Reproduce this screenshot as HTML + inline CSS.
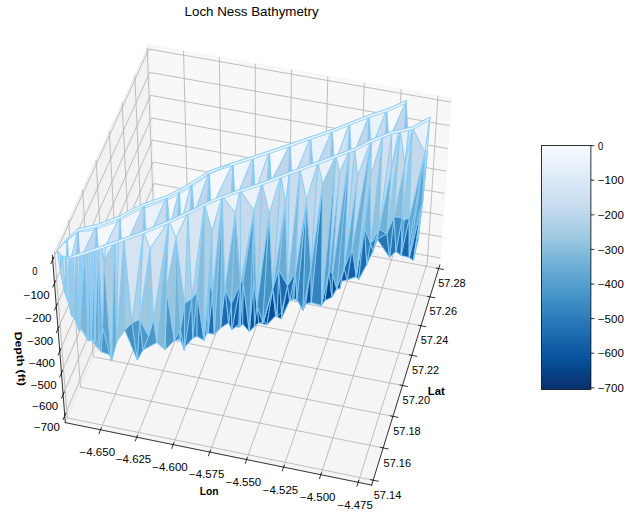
<!DOCTYPE html>
<html><head><meta charset="utf-8"><title>Loch Ness Bathymetry</title>
<style>html,body{margin:0;padding:0;background:#fff;overflow:hidden}body{width:631px;height:519px;position:relative;font-family:"Liberation Sans",sans-serif}</style></head>
<body>
<svg width="631" height="519" viewBox="0 0 631 519" style="display:block;position:absolute;left:0;top:0">
<defs><linearGradient id="cb" x1="0" y1="0" x2="0" y2="1">
<stop offset="0.000" stop-color="#f7fbff"/>
<stop offset="0.125" stop-color="#deebf7"/>
<stop offset="0.250" stop-color="#c6dbef"/>
<stop offset="0.375" stop-color="#9ecae1"/>
<stop offset="0.500" stop-color="#6baed6"/>
<stop offset="0.625" stop-color="#4292c6"/>
<stop offset="0.750" stop-color="#2171b5"/>
<stop offset="0.875" stop-color="#08519c"/>
<stop offset="1.000" stop-color="#08306b"/>
</linearGradient></defs>
<rect width="631" height="519" fill="#fff"/>
<polygon points="65.29,422.62 155.07,211.7 148.7,44.81 52.34,255.45" fill="#e6e6e6" fill-opacity=".5" stroke="#e6e6e6" stroke-opacity=".5" stroke-width="1"/>
<polygon points="155.07,211.7 439.8,265.05 451.31,97.89 148.7,44.81" fill="#f2f2f2" fill-opacity=".5" stroke="#f2f2f2" stroke-opacity=".5" stroke-width="1"/>
<polygon points="65.29,422.62 371.65,485.08 439.8,265.05 155.07,211.7" fill="#ececec" fill-opacity=".5" stroke="#ececec" stroke-opacity=".5" stroke-width="1"/>
<g fill="none" stroke="#b0b0b0" stroke-width=".8">
<polyline points="100.54,429.81 187.88,217.85 183.53,50.92"/>
<polyline points="136.77,437.19 221.59,224.17 219.32,57.2"/>
<polyline points="173.19,444.62 255.46,230.51 255.3,63.51"/>
<polyline points="209.8,452.08 289.49,236.89 291.46,69.85"/>
<polyline points="246.6,459.59 323.69,243.3 327.82,76.23"/>
<polyline points="283.6,467.13 358.06,249.74 364.36,82.63"/>
<polyline points="320.8,474.71 392.6,256.21 401.09,89.08"/>
<polyline points="358.19,482.34 427.31,262.71 438.01,95.55"/>
<polyline points="54.49,250.75 67.29,417.93 373.17,480.18"/>
<polyline points="68.66,219.77 80.44,387.04 383.17,447.91"/>
<polyline points="82.51,189.51 93.3,356.82 392.94,416.36"/>
<polyline points="96.03,159.94 105.89,327.25 402.5,385.5"/>
<polyline points="109.25,131.04 118.21,298.31 411.85,355.31"/>
<polyline points="122.17,102.8 130.27,269.98 421,325.77"/>
<polyline points="134.81,75.18 142.07,242.24 429.95,296.86"/>
<polyline points="147.17,48.16 153.64,215.08 438.72,268.56"/>
<polyline points="440.28,258.09 154.8,204.74 64.76,415.68"/>
<polyline points="441.74,236.88 154,183.55 63.12,394.54"/>
<polyline points="443.22,215.34 153.18,162.03 61.45,373.04"/>
<polyline points="444.73,193.44 152.34,140.16 59.75,351.16"/>
<polyline points="446.26,171.18 151.49,117.94 58.03,328.91"/>
<polyline points="447.82,148.56 150.63,95.36 56.27,306.26"/>
<polyline points="449.4,125.56 149.76,72.41 54.49,283.22"/>
<polyline points="451.01,102.17 148.87,49.08 52.67,259.76"/>
</g>
<g fill="none" stroke="#000" stroke-width=".8" stroke-linecap="square">
<polyline points="65.29,422.62 371.65,485.08"/>
<polyline points="101.3,427.98 99.03,433.48"/>
<polyline points="137.5,435.35 135.3,440.89"/>
<polyline points="173.9,442.77 171.76,448.33"/>
<polyline points="210.49,450.22 208.42,455.81"/>
<polyline points="247.27,457.72 245.27,463.34"/>
<polyline points="284.25,465.25 282.31,470.9"/>
<polyline points="321.42,472.82 319.55,478.5"/>
<polyline points="358.79,480.44 356.99,486.15"/>
<polyline points="439.8,265.05 371.65,485.08"/>
<polyline points="370.67,479.67 378.18,481.2"/>
<polyline points="380.69,447.41 388.12,448.91"/>
<polyline points="390.49,415.87 397.84,417.33"/>
<polyline points="400.08,385.02 407.35,386.45"/>
<polyline points="409.45,354.84 416.65,356.24"/>
<polyline points="418.62,325.31 425.75,326.68"/>
<polyline points="427.6,296.42 434.65,297.75"/>
<polyline points="436.39,268.13 443.37,269.44"/>
<polyline points="52.34,255.46 65.29,422.62"/>
<polyline points="63.11,419.54 65.78,413.29"/>
<polyline points="61.46,398.4 64.15,392.15"/>
<polyline points="59.78,376.89 62.49,370.65"/>
<polyline points="58.07,355.01 60.8,348.78"/>
<polyline points="56.33,332.75 59.08,326.53"/>
<polyline points="54.56,310.1 57.34,303.89"/>
<polyline points="52.76,287.04 55.56,280.85"/>
<polyline points="50.92,263.58 53.75,257.39"/>
</g>
<g stroke="#87ccf7" stroke-width=".85" stroke-linejoin="round">
<polygon points="356.2,276.6 358.6,279.7 358.5,276.2" fill="#08478c"/>
<polygon points="358.6,279.7 366.8,264.3 358.5,276.2" fill="#084d96"/>
<polygon points="356.2,276.6 358.5,276.2 347.3,279.7" fill="#084b92"/>
<polygon points="321.5,305.5 325,300.4 319.6,301.2" fill="#083471"/>
<polygon points="325,300.4 331.8,297.3 319.6,301.2" fill="#083876"/>
<polygon points="319.1,298.1 321.5,305.5 319.6,301.2" fill="#083571"/>
<polygon points="366.8,264.3 373,250.9 358.5,276.2" fill="#105ba2"/>
<polygon points="336.6,288.6 341.1,281.5 331.8,297.3" fill="#084488"/>
<polygon points="336.6,288.6 340,289 341.1,281.5" fill="#08478d"/>
<polygon points="321.5,305.5 319.1,298.1 311.2,302.4" fill="#083876"/>
<polygon points="305.8,303.8 319.1,298.1 319.6,301.2" fill="#083b7b"/>
<polygon points="311.2,302.4 319.1,298.1 305.8,303.8" fill="#083d7d"/>
<polygon points="277.1,316.7 281.3,318.9 275.6,315.7" fill="#083774"/>
<polygon points="395.9,251.4 401.1,255.5 405.9,141.3" fill="#4793c4"/>
<polygon points="281.3,318.9 289.6,300.5 275.6,315.7" fill="#083e80"/>
<polygon points="258.6,322.8 266.8,324.9 275.6,315.7" fill="#083775"/>
<polygon points="258.6,322.8 263.9,320.9 266.8,324.9" fill="#083774"/>
<polygon points="389.6,257.4 395.9,251.4 386.9,144.7" fill="#4d98c7"/>
<polygon points="254.5,325.9 258.6,322.8 249.3,331.7" fill="#083674"/>
<polygon points="249.3,331.7 258.6,322.8 242.6,323.8" fill="#083a79"/>
<polygon points="347.3,279.7 358.5,276.2 349.5,164.6" fill="#3c8abf"/>
<polygon points="358.5,276.2 373,250.9 369.3,153.3" fill="#4a96c7"/>
<polygon points="389.6,257.4 386.9,144.7 377.3,239.3" fill="#5aa0cc"/>
<polygon points="331.8,297.3 332.1,170.7 319.6,301.2" fill="#307fba"/>
<polygon points="341.1,281.5 347.3,279.7 349.5,164.6" fill="#3e8cc1"/>
<polygon points="341.1,281.5 332.1,170.7 331.8,297.3" fill="#3887be"/>
<polygon points="233.7,326.6 240,327 242.6,323.8" fill="#084286"/>
<polygon points="238.6,324.2 240,327 233.7,326.6" fill="#084488"/>
<polygon points="231.8,330 238.6,324.2 233.7,326.6" fill="#08468b"/>
<polygon points="369.3,153.3 373,250.9 377.3,239.3" fill="#61a6d0"/>
<polygon points="311.6,177.7 305.8,303.8 319.6,301.2" fill="#3280ba"/>
<polygon points="228.7,322.8 231.8,330 233.7,326.6" fill="#084a91"/>
<polygon points="305.8,303.8 290.2,186.7 293.7,299.3" fill="#3987be"/>
<polygon points="395.9,251.4 405.9,141.3 386.9,144.7" fill="#9ec7dd"/>
<polygon points="208.1,333.1 214.3,334.2 206.8,332.8" fill="#1059a0"/>
<polygon points="275.6,315.7 289.6,300.5 290.2,186.7" fill="#3887be"/>
<polygon points="290.2,186.7 289.6,300.5 293.7,299.3" fill="#3f8ec1"/>
<polygon points="252.9,198.3 258.6,322.8 275.6,315.7" fill="#3280ba"/>
<polygon points="358.5,276.2 369.3,153.3 349.5,164.6" fill="#91c1da"/>
<polygon points="386.9,144.7 369.3,153.3 377.3,239.3" fill="#accde3"/>
<polygon points="258.6,322.8 232.9,205.6 242.6,323.8" fill="#3583bc"/>
<polygon points="332.1,170.7 341.1,281.5 349.5,164.6" fill="#91c0da"/>
<polygon points="180.5,339.4 184.4,350.6 184.3,347.5" fill="#1a66aa"/>
<polygon points="232.9,205.6 233.7,326.6 242.6,323.8" fill="#3988be"/>
<polygon points="332.1,170.7 311.6,177.7 319.6,301.2" fill="#88bcd9"/>
<polygon points="208.9,213.4 228.7,322.8 233.7,326.6" fill="#418fc2"/>
<polygon points="305.8,303.8 311.6,177.7 290.2,186.7" fill="#89bcd9"/>
<polygon points="178.5,339.4 180.5,339.4 174.3,340.5" fill="#2a78b6"/>
<polygon points="228.7,322.8 208.9,213.4 220.5,328" fill="#4693c4"/>
<polygon points="220.5,328 208.9,213.4 214.3,334.2" fill="#4592c3"/>
<polygon points="214.3,334.2 208.9,213.4 206.8,332.8" fill="#4894c5"/>
<polygon points="275.6,315.7 290.2,186.7 269.2,185.2" fill="#8ebfda"/>
<polygon points="192.1,219.3 204,340.3 206.8,332.8" fill="#4e98c7"/>
<polygon points="196.8,336.2 204,340.3 192.1,219.3" fill="#519ac8"/>
<polygon points="252.9,198.3 275.6,315.7 269.2,185.2" fill="#90c0da"/>
<polygon points="258.6,322.8 252.9,198.3 232.9,205.6" fill="#88bcd9"/>
<polygon points="192.7,338.3 196.8,336.2 192.1,219.3" fill="#589eca"/>
<polygon points="184.3,347.5 192.7,338.3 192.1,219.3" fill="#579ecb"/>
<polygon points="180.5,339.4 184.3,347.5 167.9,233.3" fill="#5ca1cb"/>
<polygon points="208.9,213.4 233.7,326.6 232.9,205.6" fill="#92c1db"/>
<polygon points="174.3,340.5 180.5,339.4 167.9,233.3" fill="#67a9d0"/>
<polygon points="165,349.7 174.3,340.5 167.9,233.3" fill="#66a9d1"/>
<polygon points="165,349.7 144.3,247.8 156.8,342.5" fill="#6babd2"/>
<polygon points="111.5,361.1 116.7,341.5 110.7,355" fill="#2a78b6"/>
<polygon points="208.9,213.4 192.1,219.3 206.8,332.8" fill="#a0c8de"/>
<polygon points="156.8,342.5 144.3,247.8 143,350" fill="#71afd3"/>
<polygon points="119.9,258.6 137.3,360 143,350" fill="#59a0cc"/>
<polygon points="94.7,344.4 101.2,351.8 110.7,355" fill="#5da2cd"/>
<polygon points="179,230.1 184.3,347.5 192.1,219.3" fill="#a4c9df"/>
<polygon points="184.3,347.5 179,230.1 167.9,233.3" fill="#a5cae0"/>
<polygon points="98.7,344.3 101.2,351.8 94.7,344.4" fill="#69a9d0"/>
<polygon points="124.9,330.2 137.3,360 119.9,258.6" fill="#65a7cf"/>
<polygon points="144.3,247.8 165,349.7 167.9,233.3" fill="#accde3"/>
<polygon points="90.3,338.6 94.8,339.5 94.7,344.4" fill="#71aed3"/>
<polygon points="88.8,334.4 90.3,338.6 94.7,344.4" fill="#73b0d4"/>
<polygon points="91.1,340.3 90.3,338.6 88.3,340.9" fill="#77b2d5"/>
<polygon points="116.7,341.5 96.9,263 110.7,355" fill="#4f9ac9"/>
<polygon points="90.3,338.6 88.8,334.4 88.3,340.9" fill="#75b0d3"/>
<polygon points="116.7,341.5 124.9,330.2 119.9,258.6" fill="#70afd4"/>
<polygon points="96.9,263 94.7,344.4 110.7,355" fill="#65a8d0"/>
<polygon points="88.3,340.9 88.8,334.4 85.8,334.3" fill="#79b3d4"/>
<polygon points="144.3,247.8 119.9,258.6 143,350" fill="#a5cae0"/>
<polygon points="83.9,330.3 88.3,340.9 85.8,334.3" fill="#79b1d2"/>
<polygon points="81.5,329.5 88.3,340.9 83.9,330.3" fill="#7bb4d4"/>
<polygon points="76.6,322.2 83.9,330.3 85.8,334.3" fill="#7fb7d6"/>
<polygon points="88.8,334.4 94.7,344.4 77.9,264.5" fill="#78b2d4"/>
<polygon points="81.5,329.5 83.9,330.3 76.6,322.2" fill="#82b7d6"/>
<polygon points="79,330.6 81.5,329.5 76.6,322.2" fill="#83b8d6"/>
<polygon points="116.7,341.5 119.9,258.6 96.9,263" fill="#97c4dc"/>
<polygon points="88.8,334.4 77.9,264.5 85.8,334.3" fill="#7eb5d5"/>
<polygon points="78,322.3 79,330.6 76.6,322.2" fill="#85b9d6"/>
<polygon points="73.4,316.2 78,322.3 76.6,322.2" fill="#88bbd7"/>
<polygon points="77.9,264.5 76.6,322.2 85.8,334.3" fill="#82b7d5"/>
<polygon points="77.9,264.5 94.7,344.4 96.9,263" fill="#83b9d7"/>
<polygon points="72.1,312 73.4,316.2 76.6,322.2" fill="#89bad6"/>
<polygon points="71.8,316.2 73.4,316.2 72.1,312" fill="#8dbed8"/>
<polygon points="71.8,316.2 69.5,305.5 73.4,316.2" fill="#8dbed9"/>
<polygon points="67.7,299.2 71.8,316.2 72.1,312" fill="#8ebfd9"/>
<polygon points="72.1,312 76.6,322.2 67.4,274.2" fill="#8cbdd8"/>
<polygon points="67.7,299.2 72.1,312 64.6,289.5" fill="#90bed7"/>
<polygon points="76.6,322.2 77.9,264.5 67.4,274.2" fill="#9fc6dc"/>
<polygon points="64.6,289.5 72.1,312 67.4,274.2" fill="#a1c9df"/>
<polygon points="64.6,291.5 67.7,299.2 64.6,289.5" fill="#a0c9e0"/>
<polygon points="64.6,291.5 64.6,289.5 61,268.5" fill="#b3d1e6"/>
<polygon points="61,268.5 64.6,289.5 67.4,274.2" fill="#bcd4e8"/>
<polygon points="77.9,264.5 67.2,238.6 67.4,274.2" fill="#c7d9ea"/>
<polygon points="60.5,270.9 64.6,291.5 61,268.5" fill="#bed6ea"/>
<polygon points="60.5,270.9 61,268.5 67.4,274.2" fill="#c4d8ea"/>
<polygon points="406.2,100.6 386.9,144.7 405.9,141.3" fill="#c2d7ed"/>
<polygon points="386.7,109.1 369.3,153.3 386.9,144.7" fill="#c9dcef"/>
<polygon points="369.1,115 349.5,164.6 369.3,153.3" fill="#bfd5ec"/>
<polygon points="386.7,109.1 406.2,100.6 386.9,144.7" fill="#f5f9fd"/>
<polygon points="369.1,115 386.7,109.1 369.3,153.3" fill="#eaf2fa"/>
<polygon points="349.6,122.6 332.1,170.7 349.5,164.6" fill="#cfe0f1"/>
<polygon points="349.6,122.6 369.1,115 349.5,164.6" fill="#f1f6fc"/>
<polygon points="332.3,129.6 311.6,177.7 332.1,170.7" fill="#c2d7ed"/>
<polygon points="332.3,129.6 349.6,122.6 332.1,170.7" fill="#f5f9fd"/>
<polygon points="310.6,136.8 290.2,186.7 311.6,177.7" fill="#c9dcef"/>
<polygon points="310.6,136.8 332.3,129.6 311.6,177.7" fill="#eaf2fa"/>
<polygon points="290,144 269.2,185.2 290.2,186.7" fill="#bfd5ec"/>
<polygon points="290,144 310.6,136.8 290.2,186.7" fill="#f1f6fc"/>
<polygon points="269.4,150.9 252.9,198.3 269.2,185.2" fill="#cfe0f1"/>
<polygon points="253.3,156.3 232.9,205.6 252.9,198.3" fill="#c2d7ed"/>
<polygon points="269.4,150.9 290,144 269.2,185.2" fill="#f5f9fd"/>
<polygon points="253.3,156.3 269.4,150.9 252.9,198.3" fill="#eaf2fa"/>
<polygon points="233,162.7 208.9,213.4 232.9,205.6" fill="#c9dcef"/>
<polygon points="233,162.7 253.3,156.3 232.9,205.6" fill="#f1f6fc"/>
<polygon points="209.3,170.9 192.1,219.3 208.9,213.4" fill="#bfd5ec"/>
<polygon points="209.3,170.9 233,162.7 208.9,213.4" fill="#f5f9fd"/>
<polygon points="191.8,182.2 179,230.1 192.1,219.3" fill="#cfe0f1"/>
<polygon points="191.8,182.2 209.3,170.9 192.1,219.3" fill="#eaf2fa"/>
<polygon points="179.4,189.4 167.9,233.3 179,230.1" fill="#c2d7ed"/>
<polygon points="179.4,189.4 191.8,182.2 179,230.1" fill="#f1f6fc"/>
<polygon points="167.1,195.6 144.3,247.8 167.9,233.3" fill="#c9dcef"/>
<polygon points="167.1,195.6 179.4,189.4 167.9,233.3" fill="#f5f9fd"/>
<polygon points="144.4,203.5 119.9,258.6 144.3,247.8" fill="#bfd5ec"/>
<polygon points="144.4,203.5 167.1,195.6 144.3,247.8" fill="#eaf2fa"/>
<polygon points="120.2,215.9 96.9,263 119.9,258.6" fill="#cfe0f1"/>
<polygon points="120.2,215.9 144.4,203.5 119.9,258.6" fill="#f1f6fc"/>
<polygon points="96.5,224.7 77.9,264.5 96.9,263" fill="#c2d7ed"/>
<polygon points="96.5,224.7 120.2,215.9 96.9,263" fill="#f5f9fd"/>
<polygon points="78,228.8 67.4,274.2 77.9,264.5" fill="#c9dcef"/>
<polygon points="78,228.8 96.5,224.7 77.9,264.5" fill="#eaf2fa"/>
<polygon points="67.2,238.6 78,228.8 67.4,274.2" fill="#f1f6fc"/>
<polygon points="67.2,238.6 65,275 69.8,273.4" fill="#93c4e6"/>
<polygon points="78,228.8 75.5,265.3 80.3,263.7" fill="#93c4e6"/>
<polygon points="96.5,224.7 94.5,263.8 99.3,262.2" fill="#93c4e6"/>
<polygon points="120.2,215.9 117.5,259.4 122.3,257.8" fill="#93c4e6"/>
<polygon points="144.4,203.5 141.9,248.6 146.7,247" fill="#93c4e6"/>
<polygon points="167.1,195.6 165.5,234.1 170.3,232.5" fill="#93c4e6"/>
<polygon points="179.4,189.4 176.6,230.9 181.4,229.3" fill="#93c4e6"/>
<polygon points="191.8,182.2 189.7,220.1 194.5,218.5" fill="#93c4e6"/>
<polygon points="209.3,170.9 206.5,214.2 211.3,212.6" fill="#93c4e6"/>
<polygon points="233,162.7 230.5,206.4 235.3,204.8" fill="#93c4e6"/>
<polygon points="253.3,156.3 250.5,199.1 255.3,197.5" fill="#93c4e6"/>
<polygon points="269.4,150.9 266.8,186 271.6,184.4" fill="#93c4e6"/>
<polygon points="290,144 287.8,187.5 292.6,185.9" fill="#93c4e6"/>
<polygon points="310.6,136.8 309.2,178.5 314,176.9" fill="#93c4e6"/>
<polygon points="332.3,129.6 329.7,171.5 334.5,169.9" fill="#93c4e6"/>
<polygon points="349.6,122.6 347.1,165.4 351.9,163.8" fill="#93c4e6"/>
<polygon points="369.1,115 366.9,154.1 371.7,152.5" fill="#93c4e6"/>
<polygon points="386.7,109.1 384.5,145.5 389.3,143.9" fill="#93c4e6"/>
<polygon points="406.2,100.6 403.5,142.1 408.3,140.5" fill="#93c4e6"/>
<polygon points="58.5,249.1 61.3,245.7 64.1,242.2 66.6,239.1 66.9,238.8 69.7,236.3 72.5,233.8 78,228.8 96.5,224.7 119.2,216.5 130,210 144.4,203.5 167.1,195.6 179.4,189.4 191.8,182.2 209.3,170.9 233,162.7 253,156.4 290,144 310.6,136.8 332.3,129.6 350,122.4 369.1,115 387.7,108.8 406.2,100.6 406.2,103.2 387.7,111.4 369.1,117.6 350,125 332.3,132.2 310.6,139.4 290,146.6 253,159 233,165.3 209.3,173.5 191.8,184.8 179.4,192 167.1,198.2 144.4,206.1 130,212.6 119.2,219.1 96.5,227.3 78,231.4 72.5,236.4 69.7,238.4 66.9,240.4 66.6,240.6 64.1,243.2 61.3,246.2 58.5,249.1" fill="#edf4fc"/>
<polyline fill="none" stroke-width=".7" points="64,243.2 68.3,239.2 72.5,236 76.8,232.8 81,231.7 85.3,231.4 89.5,230.8 93.8,229.9 98.1,228.7 102.3,227.2 106.6,225.7 110.8,224.1 115.1,222.6 119.3,221 123.6,218.5 127.8,215.9 132.1,213.7 136.4,211.7 140.6,209.8 144.9,207.9 149.1,206.5 153.4,205 157.6,203.5 161.9,202 166.2,200.5 170.4,198.5 174.7,196.4 178.9,194.2 183.2,191.8 187.4,189.3 191.7,186.9 195.9,184.1 200.2,180.9 204.5,177.7 208.7,174.4 213,172.3 217.2,170.3 221.5,168.4 225.7,166.4 230,164.4"/>
<polygon points="413.4,260.6 420.1,216.9 418.2,240" fill="#1763a9"/>
<polygon points="413.4,260.6 409.3,257.6 422.7,200.9" fill="#1965aa"/>
<polygon points="409.3,257.6 401.1,255.5 409.4,217.7" fill="#1965aa"/>
<polygon points="409.3,243.1 409.3,257.6 409.4,217.7" fill="#1e6aac"/>
<polygon points="420.1,216.9 420.4,222 418.2,240" fill="#2c79b4"/>
<polygon points="420.1,216.9 413.4,260.6 422.7,200.9" fill="#307fbc"/>
<polygon points="401.1,255.5 395.9,251.4 402.2,218.1" fill="#2270b2"/>
<polygon points="394.1,216.4 395.9,251.4 389.6,257.4" fill="#2674b4"/>
<polygon points="332.4,273.7 336.6,288.6 331.8,297.3" fill="#084d95"/>
<polygon points="340,289 336.6,288.6 344.2,268.1" fill="#09519b"/>
<polygon points="325,300.4 321.5,305.5 329.2,270.6" fill="#08478d"/>
<polygon points="325,300.4 329.2,270.6 331.8,297.3" fill="#084a92"/>
<polygon points="401.1,255.5 404,220.3 409.4,217.7" fill="#3281bb"/>
<polygon points="341.1,281.5 340,289 344.2,268.1" fill="#0c56a0"/>
<polygon points="386.9,233.5 389.6,257.4 377.3,239.3" fill="#2674b4"/>
<polygon points="341.1,281.5 344.2,268.1 347.3,279.7" fill="#0e579f"/>
<polygon points="352.2,247.9 356.2,276.6 347.3,279.7" fill="#1560a6"/>
<polygon points="373,250.9 366.8,264.3 370.5,243.4" fill="#206fb2"/>
<polygon points="364.5,227 358.6,279.7 356.2,276.6" fill="#1a67ac"/>
<polygon points="297,299.2 303,310.6 305.8,303.8" fill="#083f80"/>
<polygon points="404,220.3 401.1,255.5 402.2,218.1" fill="#3483bc"/>
<polygon points="358.6,279.7 364.5,227 366.8,264.3" fill="#1e6cb0"/>
<polygon points="420.4,222 420.1,216.9 422.7,200.9" fill="#4691c1"/>
<polygon points="386.9,233.5 394.1,216.4 389.6,257.4" fill="#3482bb"/>
<polygon points="373,250.9 376.3,237.5 377.3,239.3" fill="#2e7db9"/>
<polygon points="277.1,316.7 281.6,312.2 281.3,318.9" fill="#083978"/>
<polygon points="424.8,152.3 409.3,257.6 409.3,243.1" fill="#4593c5"/>
<polygon points="329.2,270.6 332.4,273.7 331.8,297.3" fill="#105aa1"/>
<polygon points="376.3,237.5 373,250.9 370.5,243.4" fill="#2f7eba"/>
<polygon points="297,299.2 305.8,303.8 293.7,299.3" fill="#08488e"/>
<polygon points="395.9,251.4 394.1,216.4 402.2,218.1" fill="#3d8bbf"/>
<polygon points="344.2,268.1 352.2,247.9 347.3,279.7" fill="#1e6cb0"/>
<polygon points="303,310.6 311,267.6 305.8,303.8" fill="#0a529c"/>
<polygon points="311,267.6 311.2,302.4 305.8,303.8" fill="#0c549c"/>
<polygon points="379.1,229.1 386.9,233.5 377.3,239.3" fill="#3b89be"/>
<polygon points="376.3,237.5 379.1,229.1 377.3,239.3" fill="#3b8ac0"/>
<polygon points="366.8,264.3 364.5,227 370.5,243.4" fill="#3381ba"/>
<polygon points="263.9,320.9 258.6,322.8 262.8,322.9" fill="#083b7b"/>
<polygon points="289.6,300.5 292.5,297.8 293.7,299.3" fill="#09509a"/>
<polygon points="379.1,229.1 376.3,237.5 370.5,243.4" fill="#3b8ac0"/>
<polygon points="281.3,318.9 281.6,312.2 287.5,285.6" fill="#084c93"/>
<polygon points="289.6,300.5 281.3,318.9 287.5,285.6" fill="#0a529b"/>
<polygon points="409.3,257.6 424.8,152.3 422.7,200.9" fill="#62a6cf"/>
<polygon points="266.8,324.9 272.7,288.4 275.6,315.7" fill="#084d95"/>
<polygon points="272.7,288.4 277.1,316.7 275.6,315.7" fill="#084e97"/>
<polygon points="263.9,320.9 272.7,288.4 266.8,324.9" fill="#084c94"/>
<polygon points="424.8,152.3 409.3,243.1 409.4,217.7" fill="#65a7ce"/>
<polygon points="295.5,272.6 297,299.2 293.7,299.3" fill="#155fa5"/>
<polygon points="258.6,322.8 256.9,304.8 262.8,322.9" fill="#08488d"/>
<polygon points="258.6,322.8 254.5,325.9 256.9,304.8" fill="#08498f"/>
<polygon points="292.5,297.8 295.5,272.6 293.7,299.3" fill="#1762a8"/>
<polygon points="281.6,312.2 277.1,316.7 278.7,269.9" fill="#1059a0"/>
<polygon points="272.7,288.4 263.9,320.9 262.8,322.9" fill="#08509b"/>
<polygon points="292.5,297.8 289.6,300.5 295.5,272.6" fill="#1662a7"/>
<polygon points="254.5,325.9 249.3,331.7 253.7,280.3" fill="#0c549d"/>
<polygon points="295.5,272.6 289.6,300.5 287.5,285.6" fill="#1f6eb1"/>
<polygon points="281.6,312.2 278.7,269.9 287.5,285.6" fill="#1e6bae"/>
<polygon points="321.5,305.5 311.2,302.4 322.6,183.6" fill="#3583bc"/>
<polygon points="243.1,281 249.3,331.7 242.6,323.8" fill="#1059a0"/>
<polygon points="277.1,316.7 272.7,288.4 278.7,269.9" fill="#1e6db0"/>
<polygon points="379.1,229.1 391.6,167.7 386.9,233.5" fill="#73afd3"/>
<polygon points="364.5,227 356.2,276.6 370.6,176.2" fill="#60a6d0"/>
<polygon points="240,327 243.1,281 242.6,323.8" fill="#145ea5"/>
<polygon points="231.8,330 228.7,322.8 231.3,303.5" fill="#115ba1"/>
<polygon points="256.9,304.8 254.5,325.9 253.7,280.3" fill="#1863a7"/>
<polygon points="240,327 238.6,324.2 240.6,283.2" fill="#135ea4"/>
<polygon points="238.6,324.2 231.8,330 240.6,283.2" fill="#145fa5"/>
<polygon points="394.1,216.4 404.8,163.8 402.2,218.1" fill="#87bbd7"/>
<polygon points="303,310.6 297,299.2 306.5,199.6" fill="#3684bc"/>
<polygon points="424.8,152.3 425,176.2 422.7,200.9" fill="#a5c9de"/>
<polygon points="425,176.2 427.6,150 422.7,200.9" fill="#aacee4"/>
<polygon points="352.2,247.9 344.2,268.1 357.5,176" fill="#66aad2"/>
<polygon points="409.4,217.7 404,220.3 412.4,127" fill="#9cc7de"/>
<polygon points="356.2,276.6 352.2,247.9 371.1,139.8" fill="#70aed3"/>
<polygon points="364.5,227 370.6,176.2 370.5,243.4" fill="#79b3d4"/>
<polygon points="344.2,268.1 336.6,288.6 349.6,149.9" fill="#60a4ce"/>
<polygon points="228.7,322.8 220.5,328 224.9,288" fill="#1d6baf"/>
<polygon points="336.6,288.6 332.4,273.7 349.6,149.9" fill="#5fa4ce"/>
<polygon points="404,220.3 402.2,218.1 412.4,127" fill="#9ec8de"/>
<polygon points="311,267.6 303,310.6 306.5,199.6" fill="#4a95c6"/>
<polygon points="329.2,270.6 321.5,305.5 336,155" fill="#5ba1cd"/>
<polygon points="240.6,283.2 231.8,330 231.3,303.5" fill="#2270b3"/>
<polygon points="400.3,129.6 394.1,216.4 386.9,233.5" fill="#9cc6dd"/>
<polygon points="339.6,171.9 332.4,273.7 329.2,270.6" fill="#62a5ce"/>
<polygon points="311.2,302.4 311,267.6 322.6,183.6" fill="#549cca"/>
<polygon points="379.1,229.1 370.5,243.4 382.7,135.1" fill="#91c1db"/>
<polygon points="208.1,333.1 212.4,293 214.3,334.2" fill="#216fb2"/>
<polygon points="243.1,281 240,327 240.6,283.2" fill="#2b7ab8"/>
<polygon points="231.3,303.5 228.7,322.8 224.9,288" fill="#2977b4"/>
<polygon points="297,299.2 295.5,272.6 306.5,199.6" fill="#539bc8"/>
<polygon points="204,340.3 209.6,282.3 206.8,332.8" fill="#2a79b7"/>
<polygon points="256.9,304.8 269.2,213.5 262.8,322.9" fill="#408fc2"/>
<polygon points="209.6,282.3 208.1,333.1 206.8,332.8" fill="#2d7bb8"/>
<polygon points="269.2,213.5 272.7,288.4 262.8,322.9" fill="#4794c5"/>
<polygon points="204,340.3 196.8,336.2 197,292.1" fill="#2d7bb8"/>
<polygon points="425,176.2 424.8,152.3 427.6,150" fill="#c6d9eb"/>
<polygon points="180.5,329 184.4,350.6 180.5,339.4" fill="#2573b2"/>
<polygon points="424.8,152.3 409.4,217.7 412.4,127" fill="#c5d9ec"/>
<polygon points="184.3,347.5 184.4,350.6 191.8,298.7" fill="#2d7dbb"/>
<polygon points="184.3,347.5 191.8,298.7 192.7,338.3" fill="#307eba"/>
<polygon points="197,292.1 196.8,336.2 192.7,338.3" fill="#3382bb"/>
<polygon points="356.2,276.6 371.1,139.8 370.6,176.2" fill="#a8cbe1"/>
<polygon points="178.5,339.4 180.5,329 180.5,339.4" fill="#2f7eb9"/>
<polygon points="391.6,167.7 400.3,129.6 386.9,233.5" fill="#bfd6e9"/>
<polygon points="180.5,329 178.5,339.4 174.3,340.5" fill="#317fba"/>
<polygon points="402.2,218.1 404.8,163.8 412.4,127" fill="#c6d9ec"/>
<polygon points="253.7,280.3 249.3,331.7 253.9,210.5" fill="#559ecc"/>
<polygon points="212.4,293 208.1,333.1 209.6,282.3" fill="#4391c4"/>
<polygon points="278.7,269.9 285.4,201.8 287.5,285.6" fill="#6dacd1"/>
<polygon points="391.6,167.7 379.1,229.1 391.8,131.5" fill="#c2d6e9"/>
<polygon points="249.3,331.7 243.1,281 253.9,210.5" fill="#569dc9"/>
<polygon points="394.1,216.4 400.3,129.6 404.8,163.8" fill="#c6d8ea"/>
<polygon points="184.4,350.6 180.5,329 184.7,303.3" fill="#3a89bf"/>
<polygon points="272.7,288.4 285.4,201.8 278.7,269.9" fill="#71b0d5"/>
<polygon points="370.5,243.4 370.6,176.2 382.7,135.1" fill="#bed5e9"/>
<polygon points="295.5,272.6 287.5,285.6 300,168.2" fill="#82b9d8"/>
<polygon points="256.9,304.8 253.7,280.3 253.9,210.5" fill="#66a7cd"/>
<polygon points="184.4,350.6 184.7,303.3 191.8,298.7" fill="#4894c5"/>
<polygon points="191.8,298.7 197,292.1 192.7,338.3" fill="#4d97c7"/>
<polygon points="321.5,305.5 322.6,183.6 336,155" fill="#a6cae0"/>
<polygon points="357.5,176 344.2,268.1 354.7,148" fill="#bad3e8"/>
<polygon points="427.6,150 424.8,152.3 429.9,117.1" fill="#dce7f2"/>
<polygon points="220.5,328 214.3,334.2 222.3,196" fill="#5ca2cd"/>
<polygon points="371.1,139.8 352.2,247.9 357.5,176" fill="#c3d8eb"/>
<polygon points="166.3,288.5 174.3,340.5 165,349.7" fill="#4b96c6"/>
<polygon points="391.8,131.5 379.1,229.1 382.7,135.1" fill="#d1e1ef"/>
<polygon points="332.4,273.7 339.6,171.9 349.6,149.9" fill="#bed4e8"/>
<polygon points="153.5,319.2 156.8,342.5 143,350" fill="#4d97c7"/>
<polygon points="240.6,283.2 231.3,303.5 235.3,212.8" fill="#78b3d5"/>
<polygon points="243.1,281 240.6,283.2 253.9,210.5" fill="#83bad8"/>
<polygon points="235.3,212.8 231.3,303.5 224.9,288" fill="#78b2d4"/>
<polygon points="339.6,171.9 329.2,270.6 336,155" fill="#c3d7eb"/>
<polygon points="137.3,360 139.6,319.6 143,350" fill="#3e8dc1"/>
<polygon points="344.2,268.1 349.6,149.9 354.7,148" fill="#c8dbec"/>
<polygon points="209.6,282.3 204,340.3 212,230.8" fill="#71b1d6"/>
<polygon points="148.7,336 153.5,319.2 143,350" fill="#549fcd"/>
<polygon points="224.9,288 220.5,328 222.3,196" fill="#7db7d7"/>
<polygon points="424.8,152.3 412.4,127 429.9,117.1" fill="#eaf1f8"/>
<polygon points="214.3,334.2 212.4,293 222.3,196" fill="#7db4d4"/>
<polygon points="139.6,319.6 148.7,336 143,350" fill="#5099c7"/>
<polygon points="311,267.6 306.5,199.6 318,161.7" fill="#bfd5e9"/>
<polygon points="322.6,183.6 311,267.6 318,161.7" fill="#c5d9ec"/>
<polygon points="306.5,199.6 295.5,272.6 300,168.2" fill="#bfd5e9"/>
<polygon points="404.8,163.8 409.5,127.6 412.4,127" fill="#e7eff6"/>
<polygon points="408.9,127.8 409.5,127.6 404.8,163.8" fill="#e7eff6"/>
<polygon points="400.3,129.6 408.9,127.8 404.8,163.8" fill="#e7eff6"/>
<polygon points="132,322.7 137.3,360 124.9,330.2" fill="#428fc2"/>
<polygon points="400.3,129.6 391.6,167.7 398.5,130" fill="#e7eff6"/>
<polygon points="180.5,329 174.3,340.5 176,237.7" fill="#76b2d4"/>
<polygon points="391.6,167.7 391.8,131.5 398.5,130" fill="#e7eff6"/>
<polygon points="137.3,360 132,322.7 139.6,319.6" fill="#4f99c7"/>
<polygon points="285.4,201.8 289.5,172 287.5,285.6" fill="#bcd3e7"/>
<polygon points="204,340.3 197,292.1 204.5,203.7" fill="#8abcd8"/>
<polygon points="212.4,293 209.6,282.3 212,230.8" fill="#96c3db"/>
<polygon points="285.4,201.8 272.7,288.4 281,175.2" fill="#c0d6ea"/>
<polygon points="272.7,288.4 269.2,213.5 281,175.2" fill="#bbd4e8"/>
<polygon points="269.2,213.5 256.9,304.8 262,182.5" fill="#b4d1e6"/>
<polygon points="102.5,326.7 111.5,361.1 110.7,355" fill="#3d8bbf"/>
<polygon points="370.6,176.2 371.2,139.7 382.7,135.1" fill="#e8f0f7"/>
<polygon points="371.1,139.8 371.2,139.7 370.6,176.2" fill="#e9f0f7"/>
<polygon points="256.9,304.8 253.9,210.5 262,182.5" fill="#b8d1e6"/>
<polygon points="287.5,285.6 289.5,172 300,168.2" fill="#cadced"/>
<polygon points="165,349.7 156.8,342.5 168.9,220.6" fill="#84b9d7"/>
<polygon points="184.7,303.3 180.5,329 176,237.7" fill="#91c1db"/>
<polygon points="101.2,351.8 102.5,326.7 110.7,355" fill="#4f98c7"/>
<polygon points="98.7,344.3 99.1,344.2 101.2,351.8" fill="#67a8ce"/>
<polygon points="371.1,139.8 357.5,176 354.7,148" fill="#eaf1f8"/>
<polygon points="174.3,340.5 166.3,288.5 176,237.7" fill="#9ac5db"/>
<polygon points="94.8,339.5 98.7,344.3 94.7,344.4" fill="#6cabd1"/>
<polygon points="99.1,344.2 98.7,344.3 94.8,339.5" fill="#6aaad0"/>
<polygon points="101.2,351.8 99.1,344.2 102.5,326.7" fill="#63a6cf"/>
<polygon points="212,230.8 204,340.3 204.5,203.7" fill="#b2d0e5"/>
<polygon points="197,292.1 191.8,298.7 204.5,203.7" fill="#b0cfe4"/>
<polygon points="253.9,210.5 240.6,283.2 240.1,189.6" fill="#c7daec"/>
<polygon points="91.1,340.3 94.8,339.5 90.3,338.6" fill="#73b0d3"/>
<polygon points="156.8,342.5 153.5,319.2 168.9,220.6" fill="#a0c8de"/>
<polygon points="191.8,298.7 184.7,303.3 188,211.8" fill="#afcfe4"/>
<polygon points="153.5,319.2 148.7,336 150,248.6" fill="#9fc9df"/>
<polygon points="240.6,283.2 235.3,212.8 240.1,189.6" fill="#c7d9ea"/>
<polygon points="166.3,288.5 165,349.7 168.9,220.6" fill="#aacfe5"/>
<polygon points="339.6,171.9 336,155 349.6,149.9" fill="#edf3f8"/>
<polygon points="235.3,212.8 224.9,288 222.3,196" fill="#cadced"/>
<polygon points="150,248.6 148.7,336 139.6,319.6" fill="#9ec7dd"/>
<polygon points="336,155 322.6,183.6 318,161.7" fill="#ebf1f8"/>
<polygon points="212.4,293 212,230.8 222.3,196" fill="#c8dbec"/>
<polygon points="306.5,199.6 300,168.2 318,161.7" fill="#e8eff7"/>
<polygon points="111.5,361.1 114.3,241.7 116.7,341.5" fill="#6daed4"/>
<polygon points="79.8,324.6 88.3,340.9 81.5,329.5" fill="#7db5d5"/>
<polygon points="104,261.1 111.5,361.1 102.5,326.7" fill="#61a5ce"/>
<polygon points="124.9,330.2 116.7,341.5 123.8,238.3" fill="#93c2db"/>
<polygon points="289.5,172 285.4,201.8 281,175.2" fill="#eaf1f7"/>
<polygon points="139.6,319.6 132,322.7 143.4,231.1" fill="#b0cfe4"/>
<polygon points="79,330.6 79.8,324.6 81.5,329.5" fill="#83bad8"/>
<polygon points="132,322.7 124.9,330.2 123.8,238.3" fill="#a4c9df"/>
<polygon points="281,175.2 269.2,213.5 262,182.5" fill="#e9f0f7"/>
<polygon points="79.8,324.6 79,330.6 79.6,327.6" fill="#87bddc"/>
<polygon points="79,330.6 78,322.3 79.6,327.6" fill="#83b8d6"/>
<polygon points="184.7,303.3 176,237.7 188,211.8" fill="#d0e0ef"/>
<polygon points="98.2,247.2 99.1,344.2 94.8,339.5" fill="#6aaad1"/>
<polygon points="204.5,203.7 191.8,298.7 188,211.8" fill="#d7e5f2"/>
<polygon points="78,322.3 73.4,316.2 79.6,327.6" fill="#86bad6"/>
<polygon points="253.9,210.5 240.1,189.6 262,182.5" fill="#ebf1f7"/>
<polygon points="91.1,340.3 94.8,248.3 94.8,339.5" fill="#70afd4"/>
<polygon points="99.1,344.2 98.2,247.2 102.5,326.7" fill="#76b2d4"/>
<polygon points="89.2,250.2 91.1,340.3 88.3,340.9" fill="#76b2d4"/>
<polygon points="153.5,319.2 150,248.6 168.9,220.6" fill="#d1e0ef"/>
<polygon points="235.3,212.8 240,189.6 240.1,189.6" fill="#ecf2f8"/>
<polygon points="176,237.7 166.3,288.5 168.9,220.6" fill="#d8e5f2"/>
<polygon points="240,189.6 235.3,212.8 222.3,196" fill="#ecf2f8"/>
<polygon points="79.8,324.6 85,251.6 88.3,340.9" fill="#7cb5d6"/>
<polygon points="212,230.8 204.5,203.7 222.3,196" fill="#ebf1f8"/>
<polygon points="150,248.6 139.6,319.6 143.4,231.1" fill="#d2e2f0"/>
<polygon points="111.5,361.1 104,261.1 114.3,241.7" fill="#accde2"/>
<polygon points="69.5,305.5 71.8,316.2 67.7,299.2" fill="#8ebdd6"/>
<polygon points="82.4,252.4 79.8,324.6 79.6,327.6" fill="#8bbfdc"/>
<polygon points="123.8,238.3 116.7,341.5 118.2,240.3" fill="#cbdced"/>
<polygon points="132,322.7 123.8,238.3 143.4,231.1" fill="#d6e4f1"/>
<polygon points="116.7,341.5 115.4,241.3 118.2,240.3" fill="#c8dbec"/>
<polygon points="114.3,241.7 115.4,241.3 116.7,341.5" fill="#c8daec"/>
<polygon points="73.4,316.2 76,254.6 79.6,327.6" fill="#92c1da"/>
<polygon points="64.6,291.5 69.5,305.5 67.7,299.2" fill="#93c2da"/>
<polygon points="69.5,305.5 64.6,291.5 65.5,291.1" fill="#98c3d9"/>
<polygon points="98.2,247.2 104,261.1 102.5,326.7" fill="#bbd4e8"/>
<polygon points="188,211.8 176,237.7 168.9,220.6" fill="#eef3f9"/>
<polygon points="95.8,248 98.2,247.2 94.8,339.5" fill="#b6d2e6"/>
<polygon points="94.8,248.3 95.8,248 94.8,339.5" fill="#b4d0e5"/>
<polygon points="69.5,305.5 73.4,255.4 73.4,316.2" fill="#a3c8de"/>
<polygon points="91.1,340.3 92.4,249.1 94.8,248.3" fill="#b4d0e5"/>
<polygon points="91.4,249.5 92.4,249.1 91.1,340.3" fill="#b4d0e5"/>
<polygon points="91.4,249.5 91.1,340.3 89.2,250.2" fill="#b4d0e5"/>
<polygon points="87.5,250.7 89.2,250.2 88.3,340.9" fill="#b4d0e5"/>
<polygon points="86.8,251 87.5,250.7 88.3,340.9" fill="#b4d0e5"/>
<polygon points="85,251.6 86.8,251 88.3,340.9" fill="#b4d0e5"/>
<polygon points="65.5,291.1 64.6,291.5 60.5,270.9" fill="#adcce1"/>
<polygon points="150,248.6 143.4,231.1 168.9,220.6" fill="#eef3f9"/>
<polygon points="69.5,256.7 69.5,305.5 65.5,291.1" fill="#b1cde1"/>
<polygon points="80.5,253.1 82.4,252.4 79.6,327.6" fill="#bfd5e9"/>
<polygon points="83.5,252.1 85,251.6 79.8,324.6" fill="#c0d6e9"/>
<polygon points="79.5,253.4 80.5,253.1 79.6,327.6" fill="#bed5e8"/>
<polygon points="82.4,252.4 83.5,252.1 79.8,324.6" fill="#c0d6e9"/>
<polygon points="76.9,254.2 79.5,253.4 79.6,327.6" fill="#bed5e8"/>
<polygon points="76,254.6 76.9,254.2 79.6,327.6" fill="#bed5e8"/>
<polygon points="73.4,255.4 76,254.6 73.4,316.2" fill="#c5d8eb"/>
<polygon points="62.4,256.1 65.5,291.1 60.5,270.9" fill="#c2d5e7"/>
<polygon points="73.4,255.4 69.5,305.5 72,255.9" fill="#c8dbec"/>
<polygon points="69.5,305.5 70.5,256.4 72,255.9" fill="#c8dbec"/>
<polygon points="70.5,256.4 69.5,305.5 69.5,256.7" fill="#c8dbec"/>
<polygon points="114.3,241.7 104,261.1 105.9,244.6" fill="#e2ebf5"/>
<polygon points="104,261.1 101.9,246 105.9,244.6" fill="#dfe9f4"/>
<polygon points="101.9,246 104,261.1 100.6,246.4" fill="#dde9f3"/>
<polygon points="104,261.1 98.2,247.2 100.6,246.4" fill="#dce8f3"/>
<polygon points="65.5,291.1 62.4,256.1 65.5,256.8" fill="#cadbea"/>
<polygon points="69.5,256.7 65.5,291.1 66.7,257.1" fill="#ccdded"/>
<polygon points="66.7,257.1 65.5,291.1 65.5,256.8" fill="#cbdbeb"/>
<polygon points="61.2,255.8 57.4,250.5 60.5,270.9" fill="#cfdeeb"/>
<polygon points="57.4,250.5 62.4,256.1 60.5,270.9" fill="#cfdeeb"/>
<polygon points="61.2,255.8 60.5,270.9 60.5,255.6" fill="#d1dfed"/>
<polygon points="62,256 64.8,256.6 67.6,257.3 67.7,257.3 70.4,256.4 73.2,255.5 76,254.6 100.6,246.4 113,242.2 143.9,230.9 167.1,221.4 191.8,210 212.4,199.7 237.1,190.5 260,183.3 290,171.8 330,157.3 354.7,148 371.2,139.7 391.8,131.5 412.4,127 429.9,117.1 429.9,119.7 412.4,129.6 391.8,134.1 371.2,142.3 354.7,150.6 330,159.9 290,174.4 260,185.9 237.1,193.1 212.4,202.3 191.8,212.6 167.1,224 143.9,233.5 113,244.8 100.6,249 76,257.2 73.2,257.6 70.4,258 67.7,258.4 67.6,258.3 64.8,257.1 62,256" fill="#edf4fc"/>
</g>
<g font-family="'Liberation Sans', sans-serif" fill="#000">
<text x="97.33" y="456.01" font-size="10.2" text-anchor="middle" textLength="35.48" lengthAdjust="spacingAndGlyphs">−4.650</text>
<text x="133.58" y="463.45" font-size="10.2" text-anchor="middle" textLength="35.27" lengthAdjust="spacingAndGlyphs">−4.625</text>
<text x="170.02" y="470.93" font-size="10.2" text-anchor="middle" textLength="35.48" lengthAdjust="spacingAndGlyphs">−4.600</text>
<text x="206.65" y="478.44" font-size="10.2" text-anchor="middle" textLength="35.27" lengthAdjust="spacingAndGlyphs">−4.575</text>
<text x="243.47" y="486" font-size="10.2" text-anchor="middle" textLength="35.48" lengthAdjust="spacingAndGlyphs">−4.550</text>
<text x="280.49" y="493.6" font-size="10.2" text-anchor="middle" textLength="35.27" lengthAdjust="spacingAndGlyphs">−4.525</text>
<text x="317.71" y="501.23" font-size="10.2" text-anchor="middle" textLength="35.48" lengthAdjust="spacingAndGlyphs">−4.500</text>
<text x="355.12" y="508.91" font-size="10.2" text-anchor="middle" textLength="35.27" lengthAdjust="spacingAndGlyphs">−4.475</text>
<text x="209.23" y="495" font-size="10.2" font-weight="700" text-anchor="middle" textLength="18.86" lengthAdjust="spacingAndGlyphs">Lon</text>
<text x="387.51" y="498.87" font-size="10.2" text-anchor="middle" textLength="27.5" lengthAdjust="spacingAndGlyphs">57.14</text>
<text x="397.33" y="466.55" font-size="10.2" text-anchor="middle" textLength="27.43" lengthAdjust="spacingAndGlyphs">57.16</text>
<text x="406.93" y="434.94" font-size="10.2" text-anchor="middle" textLength="27.37" lengthAdjust="spacingAndGlyphs">57.18</text>
<text x="416.33" y="404.03" font-size="10.2" text-anchor="middle" textLength="27.39" lengthAdjust="spacingAndGlyphs">57.20</text>
<text x="425.52" y="373.79" font-size="10.2" text-anchor="middle" textLength="27.05" lengthAdjust="spacingAndGlyphs">57.22</text>
<text x="434.51" y="344.2" font-size="10.2" text-anchor="middle" textLength="27.5" lengthAdjust="spacingAndGlyphs">57.24</text>
<text x="443.31" y="315.24" font-size="10.2" text-anchor="middle" textLength="27.43" lengthAdjust="spacingAndGlyphs">57.26</text>
<text x="451.92" y="286.89" font-size="10.2" text-anchor="middle" textLength="27.37" lengthAdjust="spacingAndGlyphs">57.28</text>
<text x="436.21" y="395.01" font-size="10.2" font-weight="700" text-anchor="middle" textLength="16.95" lengthAdjust="spacingAndGlyphs">Lat</text>
<text x="46.96" y="431.38" font-size="10.2" text-anchor="middle" textLength="25.94" lengthAdjust="spacingAndGlyphs">−700</text>
<text x="45.32" y="410.24" font-size="10.2" text-anchor="middle" textLength="25.94" lengthAdjust="spacingAndGlyphs">−600</text>
<text x="43.65" y="388.74" font-size="10.2" text-anchor="middle" textLength="25.94" lengthAdjust="spacingAndGlyphs">−500</text>
<text x="41.95" y="366.86" font-size="10.2" text-anchor="middle" textLength="25.94" lengthAdjust="spacingAndGlyphs">−400</text>
<text x="40.23" y="344.61" font-size="10.2" text-anchor="middle" textLength="25.94" lengthAdjust="spacingAndGlyphs">−300</text>
<text x="38.47" y="321.96" font-size="10.2" text-anchor="middle" textLength="25.94" lengthAdjust="spacingAndGlyphs">−200</text>
<text x="36.69" y="298.92" font-size="10.2" text-anchor="middle" textLength="25.94" lengthAdjust="spacingAndGlyphs">−100</text>
<text x="34.87" y="275.46" font-size="10.2" text-anchor="middle" textLength="5.24" lengthAdjust="spacingAndGlyphs">0</text>
<text x="16.7" y="359" font-size="10.2" font-weight="700" text-anchor="middle" textLength="54.32" lengthAdjust="spacingAndGlyphs" transform="rotate(85.57 16.7 359)">Depth (ft)</text>
<text x="251.6" y="16.4" font-size="12.24" text-anchor="middle" textLength="134.03" lengthAdjust="spacingAndGlyphs">Loch Ness Bathymetry</text>
<text x="597.9" y="149.85" font-size="10.2" text-anchor="start" textLength="5.24" lengthAdjust="spacingAndGlyphs">0</text>
<text x="597.9" y="184.45" font-size="10.2" text-anchor="start" textLength="25.94" lengthAdjust="spacingAndGlyphs">−100</text>
<text x="597.9" y="219.05" font-size="10.2" text-anchor="start" textLength="25.94" lengthAdjust="spacingAndGlyphs">−200</text>
<text x="597.9" y="253.65" font-size="10.2" text-anchor="start" textLength="25.94" lengthAdjust="spacingAndGlyphs">−300</text>
<text x="597.9" y="288.25" font-size="10.2" text-anchor="start" textLength="25.94" lengthAdjust="spacingAndGlyphs">−400</text>
<text x="597.9" y="322.85" font-size="10.2" text-anchor="start" textLength="25.94" lengthAdjust="spacingAndGlyphs">−500</text>
<text x="597.9" y="357.45" font-size="10.2" text-anchor="start" textLength="25.94" lengthAdjust="spacingAndGlyphs">−600</text>
<text x="597.9" y="392.05" font-size="10.2" text-anchor="start" textLength="25.94" lengthAdjust="spacingAndGlyphs">−700</text>
</g>
<rect x="541.6" y="145.6" width="49.3" height="243.8" fill="url(#cb)" stroke="#000" stroke-width=".8"/>
<g stroke="#000" stroke-width=".8">
<line x1="590.9" y1="145.6" x2="594.4" y2="145.6"/>
<line x1="590.9" y1="180.2" x2="594.4" y2="180.2"/>
<line x1="590.9" y1="214.8" x2="594.4" y2="214.8"/>
<line x1="590.9" y1="249.4" x2="594.4" y2="249.4"/>
<line x1="590.9" y1="284" x2="594.4" y2="284"/>
<line x1="590.9" y1="318.6" x2="594.4" y2="318.6"/>
<line x1="590.9" y1="353.2" x2="594.4" y2="353.2"/>
<line x1="590.9" y1="387.8" x2="594.4" y2="387.8"/>
</g>
</svg>
</body></html>
